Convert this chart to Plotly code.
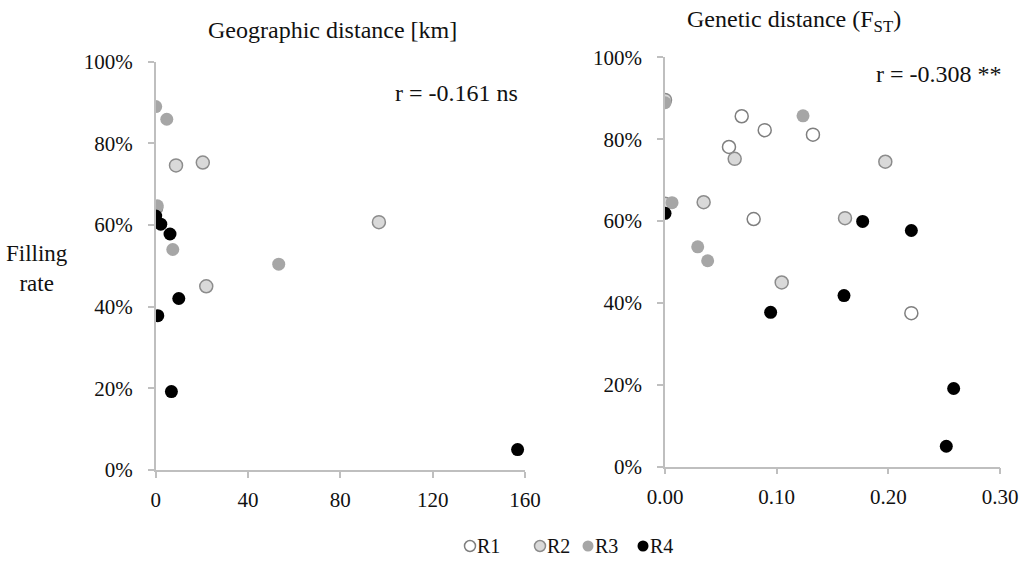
import plotly.graph_objects as go

# ---- data ----
# Geographic distance panel (km, filling rate %)
geo_R2_x = [8.8, 20.4, 0.2, 21.9, 96.7]
geo_R2_y = [74.6, 75.3, 64.2, 45.0, 60.7]
geo_R3_x = [0.0, 4.8, 0.7, 7.4, 53.3]
geo_R3_y = [89.0, 85.9, 64.7, 54.0, 50.4]
geo_R4_x = [0.0, 2.2, 6.2, 10.0, 0.9, 6.8, 156.8]
geo_R4_y = [62.2, 60.2, 57.8, 42.0, 37.8, 19.2, 5.0]

# Genetic distance panel (FST, filling rate %)
gen_R1_x = [0.0687, 0.0893, 0.0573, 0.1325, 0.0794, 0.2206]
gen_R1_y = [85.6, 82.2, 78.1, 81.1, 60.5, 37.5]
gen_R2_x = [0.0624, 0.0346, 0.1973, 0.1612, 0.1045, 0.0, 0.0]
gen_R2_y = [75.2, 64.6, 74.5, 60.7, 45.0, 64.2, 89.6]
gen_R3_x = [0.0, 0.0063, 0.0293, 0.0382, 0.1236]
gen_R3_y = [88.9, 64.5, 53.7, 50.3, 85.7]
gen_R4_x = [0.0, 0.0946, 0.1603, 0.1770, 0.2206, 0.2585, 0.2519]
gen_R4_y = [61.9, 37.7, 41.8, 59.9, 57.7, 19.1, 5.0]

series_names = ["R1", "R2", "R3", "R4"]
y_ticks = [0, 20, 40, 60, 80, 100]
y_ticklabels = ["0%", "20%", "40%", "60%", "80%", "100%"]
geo_ticks = [0, 40, 80, 120, 160]
gen_ticks = [0.0, 0.1, 0.2, 0.3]
gen_ticklabels = ["0.00", "0.10", "0.20", "0.30"]

FONT = "Liberation Serif"
AXCOL = "#bfbfbf"
TXT = "#111111"

styles = {
    "R1": dict(color="white", line=dict(color="#7f7f7f", width=1.5)),
    "R2": dict(color="#d9d9d9", line=dict(color="#8c8c8c", width=1.5)),
    "R3": dict(color="#a6a6a6", line=dict(color="#a6a6a6", width=0)),
    "R4": dict(color="black", line=dict(color="black", width=0)),
}

fig = go.Figure()

def add(name, x, y, xa, ya):
    st = styles[name]
    fig.add_trace(go.Scatter(
        x=x, y=y, mode="markers", name=name, xaxis=xa, yaxis=ya,
        showlegend=False,
        marker=dict(size=13, color=st["color"], line=st["line"]),
    ))

add("R1", gen_R1_x, gen_R1_y, "x2", "y2")
add("R2", geo_R2_x, geo_R2_y, "x", "y")
add("R2", gen_R2_x, gen_R2_y, "x2", "y2")
add("R3", geo_R3_x, geo_R3_y, "x", "y")
add("R3", gen_R3_x, gen_R3_y, "x2", "y2")
add("R4", geo_R4_x, geo_R4_y, "x", "y")
add("R4", gen_R4_x, gen_R4_y, "x2", "y2")

W, H = 1022, 567
def px(v): return v / W
def py(v): return 1 - v / H

axis_common = dict(showgrid=False, zeroline=False, showline=True, linecolor=AXCOL,
                   linewidth=1.5, ticks="outside", ticklen=6, tickcolor=AXCOL,
                   tickwidth=1.5, tickfont=dict(family=FONT, size=21, color=TXT),
                   automargin=False)
x_extra = dict(ticklabelstandoff=4)
y_extra = dict(ticklabelstandoff=11)

def ann(text, x, y, size=24):
    return dict(text=text, x=px(x), y=py(y), xref="paper", yref="paper",
                xanchor="center", yanchor="middle", showarrow=False, align="center",
                font=dict(family=FONT, size=size, color=TXT))

annotations = [
    ann("Geographic distance [km]", 332, 30),
    ann("Genetic distance (F<sub>ST</sub>)", 794, 21),
    ann("r = -0.161 ns", 456, 93),
    ann("r = -0.308 **", 939, 74),
    ann("Filling<br>rate", 37, 268, 23),
]

# custom compact legend (swatch + label)
legend_x = [470, 540, 588, 643]
legend_y = 546
shapes = []
r = 5.5
for name, lx in zip(series_names, legend_x):
    st = styles[name]
    shapes.append(dict(type="circle", xref="paper", yref="paper",
                       x0=px(lx - r), x1=px(lx + r), y0=py(legend_y + r), y1=py(legend_y - r),
                       fillcolor=st["color"],
                       line=dict(color=st["line"]["color"], width=max(st["line"]["width"], 0.01))))
    annotations.append(dict(text=name, x=px(lx + 5), y=py(legend_y), xref="paper", yref="paper",
                            xanchor="left", yanchor="middle", showarrow=False,
                            font=dict(family=FONT, size=20, color=TXT)))

fig.update_layout(
    width=W, height=H,
    margin=dict(l=0, r=0, t=0, b=0),
    paper_bgcolor="white", plot_bgcolor="white",
    font=dict(family=FONT, size=21, color=TXT),
    xaxis=dict(domain=[px(155.7), px(525)], range=[0, 160], tickvals=geo_ticks,
               anchor="y", **axis_common, **x_extra),
    yaxis=dict(domain=[py(470), py(61.7)], range=[0, 100], tickvals=y_ticks,
               ticktext=y_ticklabels, anchor="x", **axis_common, **y_extra),
    xaxis2=dict(domain=[px(665), px(1000)], range=[0, 0.3], tickvals=gen_ticks,
                ticktext=gen_ticklabels, anchor="y2", **axis_common, **x_extra),
    yaxis2=dict(domain=[py(466.7), py(57.3)], range=[0, 100], tickvals=y_ticks,
                ticktext=y_ticklabels, anchor="x2", **axis_common, **y_extra),
    showlegend=False,
    annotations=annotations,
    shapes=shapes,
)

fig.write_html("out.html")
